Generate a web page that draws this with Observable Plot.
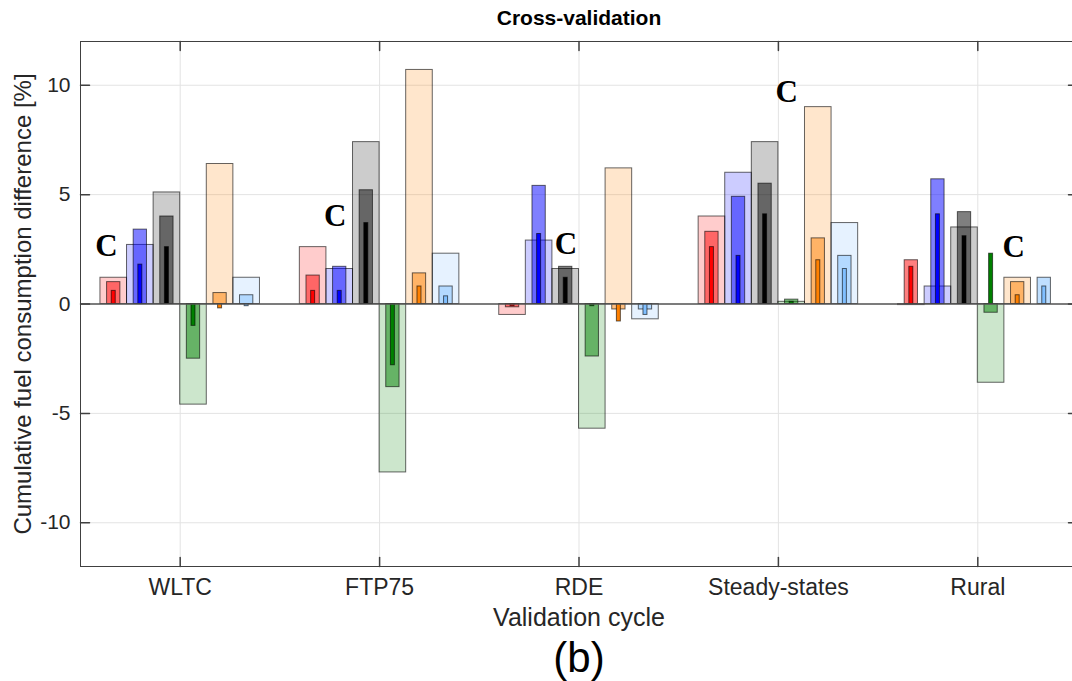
<!DOCTYPE html>
<html>
<head>
<meta charset="utf-8">
<script src="https://cdn.jsdelivr.net/npm/d3@7"></script>
<script src="https://cdn.jsdelivr.net/npm/@observablehq/plot@0.6"></script>
<style>
  body { margin: 0; background: #fff; overflow: hidden; }
  #chart { width: 1072px; height: 681px; overflow: hidden; }
  #chart svg { max-width: none !important; height: 681px !important; }
</style>
</head>
<body>
<div id="chart"></div>
<script>
// Validation cycles (one group of bars per cycle)
const cycles = ["WLTC", "FTP75", "RDE", "Steady-states", "Rural"];
// Model variants inside each group, left to right
const seriesColors = ["#ff0000", "#0000ff", "#000000", "#008000", "#ff8000", "#80bfff"];

// Cumulative fuel consumption difference [%] — rows: cycles, columns: variants
const outerValues = [
  [1.2, 2.7, 5.1, -4.6, 6.4, 1.2],
  [2.6, 1.6, 7.4, -7.7, 10.7, 2.3],
  [-0.5, 2.9, 1.6, -5.7, 6.2, -0.7],
  [4.0, 6.0, 7.4, 0.1, 9.0, 3.7],
  [-0.05, 0.8, 3.5, -3.6, 1.2, 0]
];
const middleValues = [
  [1.0, 3.4, 4.0, -2.5, 0.5, 0.4],
  [1.3, 1.7, 5.2, -3.8, 1.4, 0.8],
  [-0.15, 5.4, 1.7, -2.4, -0.25, -0.25],
  [3.3, 4.9, 5.5, 0.2, 3.0, 2.2],
  [2.0, 5.7, 4.2, -0.4, 1.0, 1.2]
];
const innerValues = [
  [0.6, 1.8, 2.6, -1.0, -0.2, -0.1],
  [0.6, 0.6, 3.7, -2.8, 0.8, 0.35],
  [-0.1, 3.2, 1.2, -0.1, -0.8, -0.5],
  [2.6, 2.2, 4.1, 0.1, 2.0, 1.6],
  [1.7, 4.1, 3.1, 2.3, 0.4, 0.8]
];

// "C" annotations: cycle position (group units) and height [%]
const markerX = [0.63, 1.777, 2.935, 4.041, 5.18];
const markerY = [2.64, 4.02, 2.74, 9.69, 2.61];

const yTicks = [-10, -5, 0, 5, 10];
const xTicks = cycles.map((_, i) => i + 1);

// Bar layout: six variants share 80% of each group slot; nested bars narrow inward
const groupSpan = 0.8;
const slot = groupSpan / seriesColors.length;
const layers = [
  {values: outerValues, half: slot / 2, opacity: 0.2},
  {values: middleValues, half: slot / 4, opacity: 0.5},
  {values: innerValues, half: slot * 0.075, opacity: 1}
];

function layerRows(layer) {
  const rows = [];
  layer.values.forEach((row, gi) => {
    row.forEach((v, si) => {
      const c = gi + 1 + (si - (seriesColors.length - 1) / 2) * slot;
      rows.push({x1: c - layer.half, x2: c + layer.half, value: v, color: seriesColors[si]});
    });
  });
  return rows;
}

// Inward-pointing tick line
const tickShape = {draw(context, l) { context.moveTo(0, 0); context.lineTo(0, -l); }};
const axisColor = "#404040";
const sans = "Liberation Sans, Arial, Helvetica, sans-serif";

const chart = Plot.plot({
  width: 1080,
  height: 681,
  marginLeft: 80,
  marginRight: 3,
  marginTop: 41,
  marginBottom: 115,
  style: {fontFamily: sans, color: "#262626", background: "#fff"},
  x: {type: "linear", domain: [0.5, 5.5]},
  y: {domain: [-12, 12]},
  marks: [
    Plot.ruleX(xTicks, {stroke: "#e3e3e3", strokeWidth: 1}),
    Plot.ruleY(yTicks, {stroke: "#e3e3e3", strokeWidth: 1}),
    ...layers.map(layer => Plot.rectY(layerRows(layer), {
      x1: "x1", x2: "x2", y1: 0, y2: "value",
      fill: "color", fillOpacity: layer.opacity,
      stroke: "#000", strokeOpacity: 0.6, strokeWidth: 1
    })),
    Plot.ruleY([0], {stroke: "#555", strokeWidth: 1.3}),
    Plot.text(markerX.map((x, i) => ({x, y: markerY[i]})), {
      x: "x", y: "y", text: () => "C",
      fontFamily: "Liberation Serif, Times New Roman, serif",
      fontWeight: "bold", fontSize: 31, fill: "#000"
    }),
    Plot.frame({stroke: axisColor, strokeWidth: 1}),
    Plot.vector(yTicks, {y: d => d, frameAnchor: "left", rotate: 90, length: 9, anchor: "start", shape: tickShape, stroke: axisColor}),
    Plot.vector(yTicks, {y: d => d, frameAnchor: "right", rotate: -90, length: 9, anchor: "start", shape: tickShape, stroke: axisColor}),
    Plot.vector(xTicks, {x: d => d, frameAnchor: "bottom", rotate: 0, length: 9, anchor: "start", shape: tickShape, stroke: axisColor}),
    Plot.vector(xTicks, {x: d => d, frameAnchor: "top", rotate: 180, length: 9, anchor: "start", shape: tickShape, stroke: axisColor}),
    Plot.axisY({ticks: yTicks, tickSize: 0, tickPadding: 10, fontSize: 21, tickFormat: d => String(d), label: null}),
    Plot.axisX({ticks: xTicks, tickSize: 0, tickPadding: 12, fontSize: 23, tickFormat: d => cycles[d - 1], label: null}),
    Plot.text(["Cross-validation"], {frameAnchor: "top", lineAnchor: "middle", dy: -23, fontSize: 21, fontWeight: "bold", fill: "#000"}),
    Plot.text(["Cumulative fuel consumption difference [%]"], {frameAnchor: "left", textAnchor: "middle", lineAnchor: "middle", dx: -57, rotate: -90, fontSize: 24, fill: "#262626"}),
    Plot.text(["Validation cycle"], {frameAnchor: "bottom", lineAnchor: "middle", dy: 51, fontSize: 25, fill: "#262626"}),
    Plot.text(["(b)"], {frameAnchor: "bottom", lineAnchor: "middle", dy: 92, fontSize: 42, fill: "#000"})
  ]
});

document.getElementById("chart").appendChild(chart);
</script>
</body>
</html>
